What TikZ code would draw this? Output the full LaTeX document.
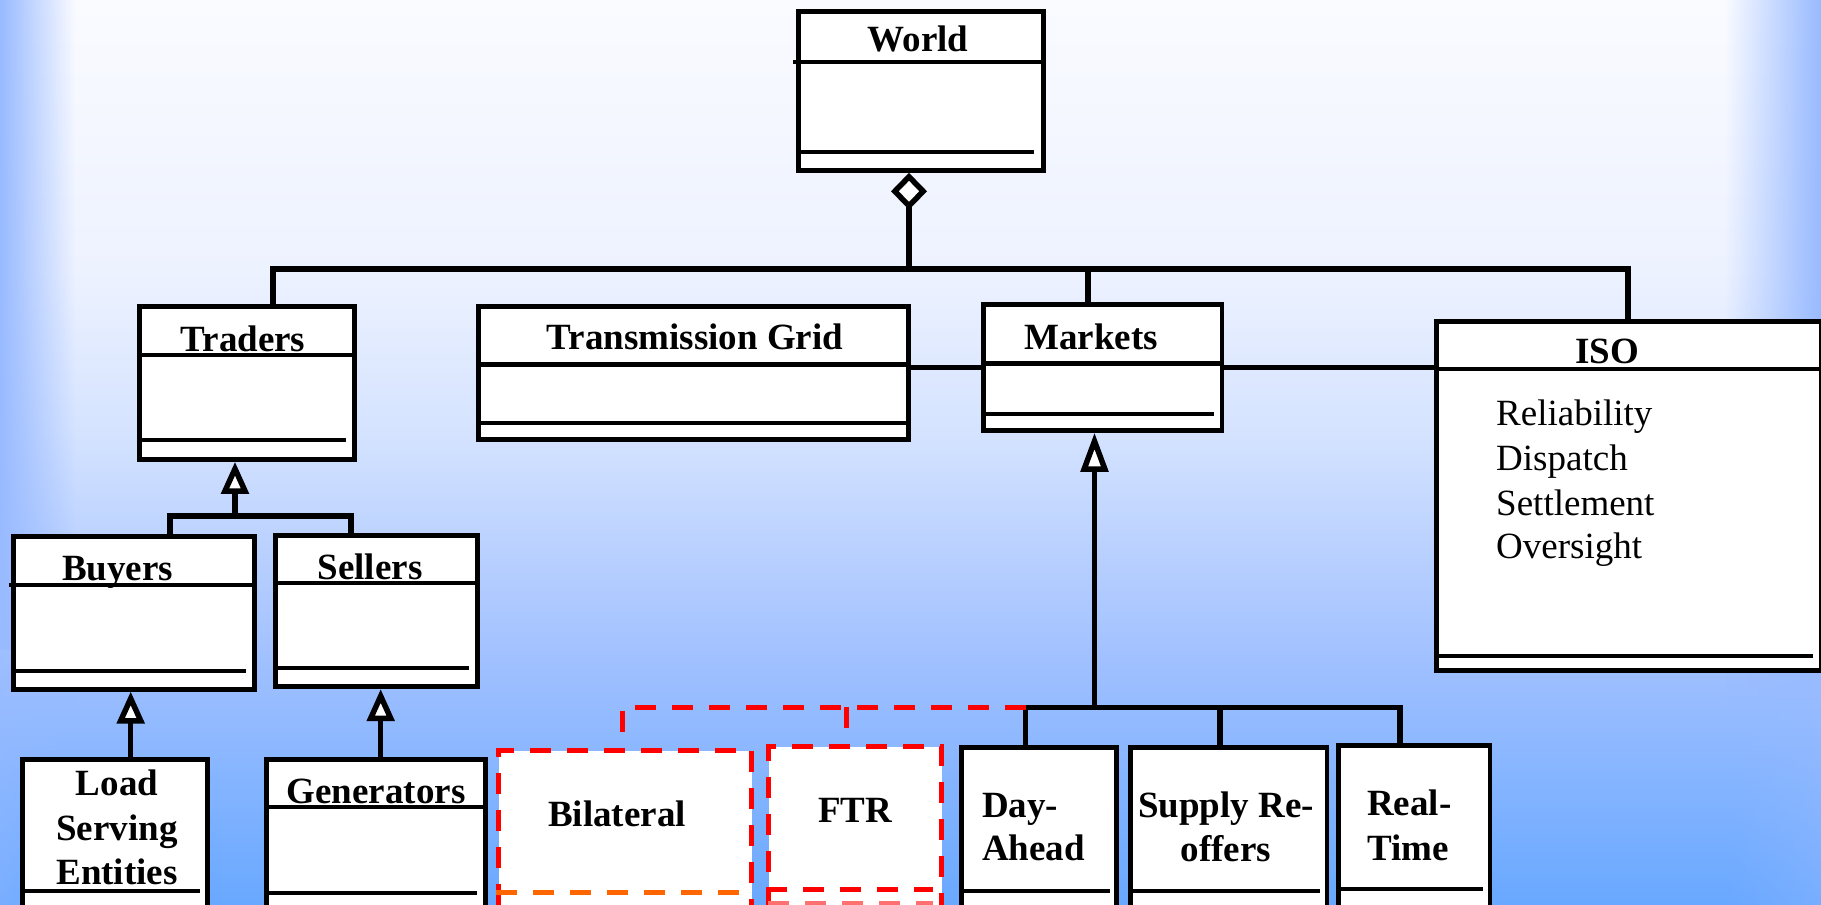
\documentclass[tikz,border=0pt]{standalone}
\usepackage{fontspec}
\setmainfont{Liberation Serif}
\usetikzlibrary{arrows.meta,fadings}
\definecolor{bgTop}{HTML}{FAFBFF}
\definecolor{bgB}{HTML}{EDF2FF}
\definecolor{bgC}{HTML}{D5E3FF}
\definecolor{bgD}{HTML}{A0C0FF}
\definecolor{bgBot}{HTML}{68A8FF}
\definecolor{sideblue}{HTML}{98BAFF}
\definecolor{dashorange}{HTML}{FF6600}
\definecolor{lightred}{HTML}{FF7070}
\tikzfading[name=fadeL, left color=transparent!0, right color=transparent!100]
\tikzfading[name=fadeR, left color=transparent!100, right color=transparent!0]
\tikzset{
  clsbox/.style={draw=black, fill=white, line width=4.8pt, inner sep=0pt, anchor=north west},
  dbox/.style={draw=red, fill=white, line width=5pt, dash pattern=on 21pt off 16pt, inner sep=0pt, anchor=north west},
  sepline/.style={line width=4.3pt},
  conn/.style={line width=5.5pt},
  gen/.style={conn, -{Triangle[fill=white, length=32pt, width=27pt]}},
  genlong/.style={conn, -{Triangle[fill=white, length=39pt, width=27pt]}},
  agg/.style={conn, -{Diamond[fill=white, length=37pt, width=36pt]}},
  reddash/.style={draw=red, line width=5pt, dash pattern=on 21pt off 16pt},
  ttl/.style={font=\bfseries\fontsize{37}{44}\selectfont, inner sep=0pt, anchor=base},
  ttlw/.style={font=\bfseries\fontsize{37}{44}\selectfont, inner sep=0pt, anchor=base west},
  lst/.style={font=\fontsize{37}{44}\selectfont, inner sep=0pt, anchor=base west},
}
\newcommand{\clsnode}[5]{\node[clsbox, minimum width={(#4)-(#2)}, minimum height={(#5)-(#3)}] (#1) at (#2,#3) {};}
\newcommand{\dashnode}[5]{\node[dbox, minimum width={(#4)-(#2)}, minimum height={(#5)-(#3)}] (#1) at (#2,#3) {};}
\begin{document}
\begin{tikzpicture}[x=1pt,y=-1pt]
\useasboundingbox (0,0) rectangle (1821,905);
\clip (0,0) rectangle (1821,905);
% background
\shade[top color=bgTop, bottom color=bgB] (0,-1) rectangle (1821,271);
\shade[top color=bgB, bottom color=bgC] (0,270) rectangle (1821,431);
\shade[top color=bgC, bottom color=bgD] (0,430) rectangle (1821,661);
\shade[top color=bgD, bottom color=bgBot] (0,660) rectangle (1821,906);
\fill[sideblue, path fading=fadeL] (0,0) rectangle (75,650);
\fill[sideblue, path fading=fadeL, fill opacity=0.35] (0,650) rectangle (75,905);
\fill[sideblue, path fading=fadeR] (1725,0) rectangle (1821,700);
\fill[sideblue, path fading=fadeR, fill opacity=0.35] (1725,700) rectangle (1821,905);

% class boxes
\clsnode{World}{795.7}{9.3}{1040.7}{168}
\draw[sepline] (793,62) -- (1040.7,62);
\draw[sepline] (795.7,152) -- (1034,152);
\node[ttl] (tWorld) at (918,51.7) {World};

\clsnode{Traders}{137}{304}{352}{457}
\draw[sepline] (137,355) -- (352,355);
\draw[sepline] (137,440) -- (346,440);
\node[ttl] (tTraders) at (243,351.5) {Traders};

\clsnode{TG}{476}{304}{906}{437}
\draw[sepline] (476,364.5) -- (906,364.5);
\draw[sepline] (476,423) -- (906,423);
\node[ttl] (tTG) at (695,349) {Transmission Grid};

\clsnode{Markets}{981}{302.4}{1219.5}{428}
\draw[sepline] (981,363.5) -- (1219.5,363.5);
\draw[sepline] (981,414) -- (1214,414);
\node[ttl] (tMarkets) at (1091,349) {Markets};

\clsnode{ISO}{1434.3}{319}{1819}{667.7}
\draw[sepline] (1434.3,369) -- (1819,369);
\draw[sepline] (1434.3,655.7) -- (1813,655.7);
\node[ttl] (tISO) at (1607,363.3) {ISO};
\node[lst] (tRel) at (1496,425) {Reliability};
\node[lst] (tDis) at (1496,470) {Dispatch};
\node[lst] (tSet) at (1496,515) {Settlement};
\node[lst] (tOve) at (1496,558) {Oversight};

\clsnode{Buyers}{11}{534.3}{251.7}{686.7}
\draw[sepline] (9,585) -- (251.7,585);
\draw[sepline] (11,670.7) -- (245.7,670.7);
\node[ttl] (tBuyers) at (117.5,580) {Buyers};

\clsnode{Sellers}{273.3}{533.3}{475}{684.3}
\draw[sepline] (273.3,583.3) -- (475,583.3);
\draw[sepline] (273.3,668.3) -- (469,668.3);
\node[ttl] (tSellers) at (370,579) {Sellers};

\clsnode{LSE}{20}{756.7}{205}{950}
\draw[sepline] (20,890.7) -- (200,890.7);
\node[ttl] (tLoad) at (117,795) {Load};
\node[ttl] (tServ) at (117,840) {Serving};
\node[ttl] (tEnt) at (117,884) {Entities};

\clsnode{Gen}{264.3}{756.7}{482.7}{950}
\draw[sepline] (264.3,806.7) -- (482.7,806.7);
\draw[sepline] (264.3,892.7) -- (477,892.7);
\node[ttl] (tGen) at (376,803) {Generators};

\clsnode{DA}{958.8}{745}{1114}{950}
\draw[sepline] (958.8,891) -- (1110,891);
\node[ttlw] (tDay) at (982,817) {Day-};
\node[ttlw] (tAhead) at (982,860.7) {Ahead};

\clsnode{SR}{1128}{745}{1324.5}{950}
\draw[sepline] (1128,891) -- (1320,891);
\node[ttl] (tSup) at (1226,817) {Supply Re-};
\node[ttl] (tOff) at (1226,861) {offers};

\clsnode{RT}{1336}{743.3}{1487.5}{950}
\draw[sepline] (1336,889) -- (1483,889);
\node[ttlw] (tReal) at (1367,815) {Real-};
\node[ttlw] (tTime) at (1367,860) {Time};

% dashed boxes
\dashnode{Bil}{496}{748.3}{749.3}{960}
\draw[draw=dashorange, line width=4.5pt, dash pattern=on 21pt off 16pt] (496,892.7) -- (742,892.7);
\node[ttl] (tBil) at (617,826.7) {Bilateral};

\dashnode{FTR}{766}{744}{939}{960}
\draw[reddash] (766,889.3) -- (933,889.3);
\draw[draw=lightred, line width=3.5pt, dash pattern=on 21pt off 16pt] (768,903) -- (933,903);
\node[ttl] (tFTR) at (855,822.7) {FTR};

% connectors
\coordinate (wj) at (909,269);
\coordinate (busL) at (273,269);
\coordinate (busR) at (1628,269);
\coordinate (busM) at (1088,269);
\draw[agg] (wj) -- (World.south -| wj);
\draw[conn] (Traders.north -| busL) -- (busL) -- (busR) -- (ISO.north -| busR);
\draw[conn] (busM) -- (Markets.north -| busM);

\draw[conn] (TG.east |- Markets.west) -- (Markets.west);
\draw[conn] (Markets.east) -- (ISO.west |- Markets.east);

\coordinate (tgL) at (170,516);
\coordinate (tgR) at (351,516);
\coordinate (tgC) at (235,516);
\draw[conn] (Buyers.north -| tgL) -- (tgL) -- (tgR) -- (Sellers.north -| tgR);
\draw[gen] (tgC) -- (Traders.south -| tgC);

\coordinate (lx) at (130.7,720);
\coordinate (gx) at (380.7,720);
\draw[gen] (LSE.north -| lx) -- (Buyers.south -| lx);
\draw[gen] (Gen.north -| gx) -- (Sellers.south -| gx);

\coordinate (mL) at (1025.5,707.3);
\coordinate (mR) at (1400,707.3);
\coordinate (mS) at (1220,707.3);
\coordinate (mC) at (1094.5,707.3);
\draw[conn] (DA.north -| mL) -- (mL) -- (mR) -- (RT.north -| mR);
\draw[conn] (mS) -- (SR.north -| mS);
\draw[genlong] (mC) -- (Markets.south -| mC);

\coordinate (rL) at (622,707.3);
\coordinate (rF) at (846,707.3);
\draw[reddash] (mL) -- (rL) -- (Bil.north -| rL);
\draw[reddash] (rF) -- (FTR.north -| rF);
\end{tikzpicture}
\end{document}
